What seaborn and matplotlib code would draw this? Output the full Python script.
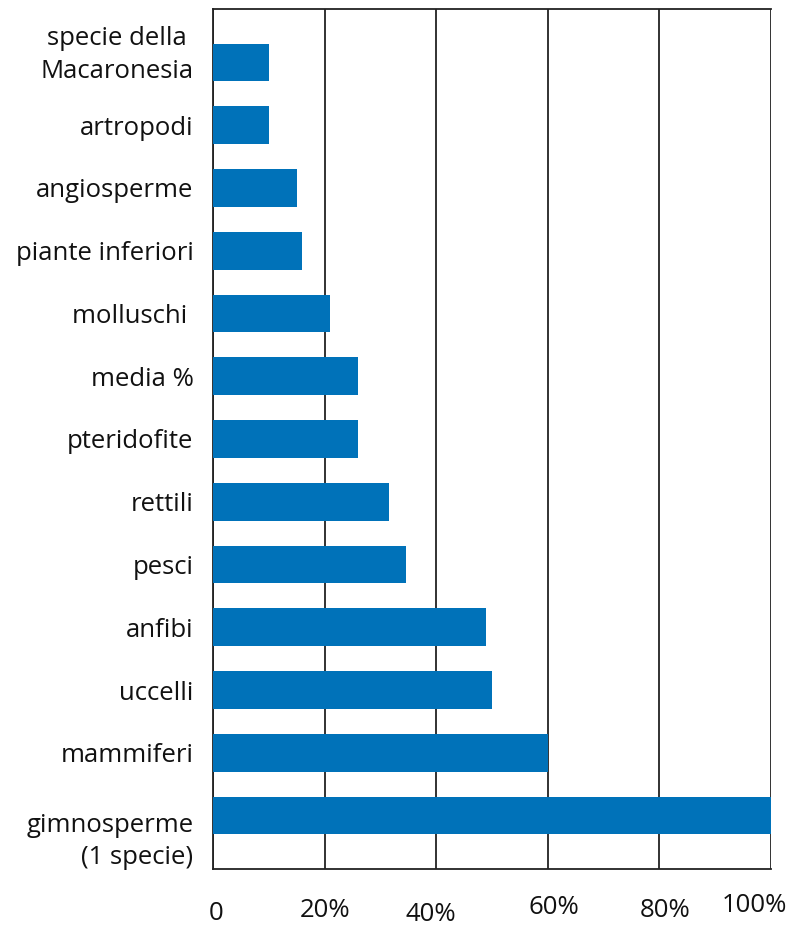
import numpy as np
import pandas as pd
import matplotlib
matplotlib.use('Agg')
import matplotlib.pyplot as plt
import matplotlib.transforms as mtransforms
import seaborn as sns

categories = ["specie della \nMacaronesia", "artropodi", "angiosperme", "piante inferiori",
              "molluschi ", "media %", "pteridofite", "rettili", "pesci", "anfibi",
              "uccelli", "mammiferi", "gimnosperme\n(1 specie)"]
values = [10, 10, 15, 16, 21, 26, 26, 31.5, 34.5, 49, 50, 60, 100]
tick_vals = [0, 20, 40, 60, 80, 100]
tick_labels = ["0", "20%", "40%", "60%", "80%", "100%"]

df = pd.DataFrame({"categoria": categories, "valore": values})

sns.set_theme(style="white")
plt.rcParams['font.family'] = ['Open Sans', 'DejaVu Sans']

fig = plt.figure(figsize=(7.88, 9.27), dpi=100)
ax = fig.add_axes([213 / 788, 58 / 927, 558 / 788, 860 / 927])

sns.barplot(data=df, x="valore", y="categoria", orient="h", color="#0072B9",
            saturation=1, width=0.6, linewidth=0, ax=ax, zorder=3)

ax.set_xlim(0, 100)
ax.set_ylim(12.85, -0.85)
ax.set_xticks(tick_vals)
ax.set_xticklabels([])
ax.grid(axis="x", color="#222222", linewidth=1.3, zorder=1)
ax.grid(axis="y", visible=False)
ax.set_xlabel("")
ax.set_ylabel("")
ax.tick_params(axis="both", length=0)
ax.tick_params(axis="y", pad=14, labelsize=18.5, labelcolor="#111111")

# two-line labels sit a bit off the bar centre in the original
shifts = {0: 14, 12: -19}
for i, lab in enumerate(ax.get_yticklabels()):
    lab.set_linespacing(1.4)
    if i in shifts:
        lab.set_transform(lab.get_transform() +
                          mtransforms.ScaledTranslation(0, shifts[i] / 100, fig.dpi_scale_trans))

for side in ["left", "bottom", "top"]:
    ax.spines[side].set_visible(True)
    ax.spines[side].set_color("#222222")
    ax.spines[side].set_linewidth(1.3)
ax.spines["right"].set_visible(False)

# staggered tick labels as in the original
y_offsets = [-0.052, -0.048, -0.053, -0.045, -0.048, -0.042]
x_shift = [0.5, 0, -1, 1, 1, -3]
for v, t, dy, dx in zip(tick_vals, tick_labels, y_offsets, x_shift):
    ax.text(v + dx, dy, t, transform=ax.get_xaxis_transform(), ha="center", va="center",
            fontsize=18.5, color="#111111", clip_on=False)

plt.savefig("out.png", dpi=100)
plt.close()
